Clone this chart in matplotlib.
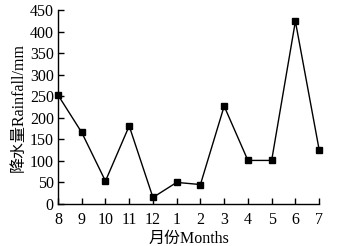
import matplotlib
matplotlib.use("Agg")
import matplotlib.pyplot as plt

plt.rcParams['font.family'] = ['Liberation Serif', 'Noto Sans CJK SC']

months = ['8', '9', '10', '11', '12', '1', '2', '3', '4', '5', '6', '7']
rainfall = [253, 166, 53, 181, 15, 50, 45, 227, 101, 101, 424, 126]

fig = plt.figure(figsize=(3.37, 2.46), dpi=100)
ax = fig.add_axes([0.172, 0.171, 0.775, 0.788])

x = list(range(len(months)))
ax.plot(x, rainfall, color='black', linewidth=1.0, marker='s', markersize=4,
        markerfacecolor='black', clip_on=False)

ax.set_xlim(0, len(months) - 1)
ax.set_ylim(0, 450)
ax.set_xticks(x)
ax.set_xticklabels(months)
ax.set_yticks(range(0, 451, 50))

ax.spines['top'].set_visible(False)
ax.spines['right'].set_visible(False)
ax.spines['left'].set_linewidth(1.0)
ax.spines['bottom'].set_linewidth(1.0)
ax.tick_params(direction='in', length=4, width=1.0, labelsize=11.5)
ax.tick_params(axis='x', pad=6)
ax.tick_params(axis='y', pad=3)

ax.set_xlabel('月份Months', fontsize=11.5, labelpad=2)
ax.set_ylabel('降水量Rainfall/mm', fontsize=11.5, labelpad=2)

fig.savefig('out.png', dpi=100)
